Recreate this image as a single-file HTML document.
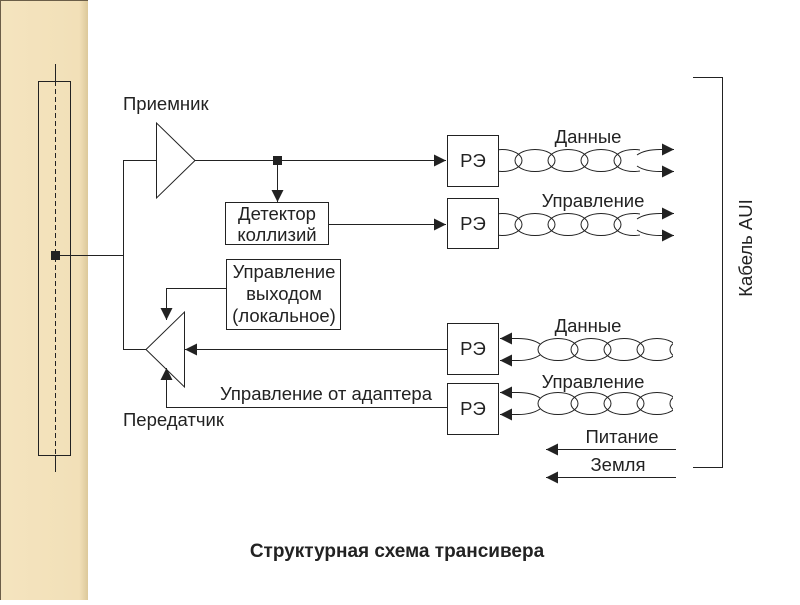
<!DOCTYPE html>
<html><head><meta charset="utf-8"><style>
body{margin:0;background:#fff;}
svg text{font-family:"Liberation Sans",sans-serif;fill:#222;}
</style></head><body>
<svg width="800" height="600" viewBox="0 0 800 600" xmlns="http://www.w3.org/2000/svg">
<defs>
<linearGradient id="pg" x1="0" x2="1"><stop offset="0" stop-color="#f4e4bf"/><stop offset="0.9" stop-color="#f2e0b8"/><stop offset="1" stop-color="#dcc89a"/></linearGradient>
<marker id="ar" viewBox="0 0 12 12" refX="12" refY="6" markerWidth="12" markerHeight="12" markerUnits="userSpaceOnUse" orient="auto"><path d="M0,0L12,6L0,12z" fill="#222"/></marker>
<clipPath id="c1"><rect x="498" y="130" width="142" height="120"/></clipPath>
<clipPath id="c2"><rect x="537" y="320" width="136" height="100"/></clipPath>
</defs>
<rect x="0" y="0" width="88" height="600" fill="url(#pg)"/>
<line x1="0.5" y1="0" x2="0.5" y2="600" stroke="#6b5e48"/>
<line x1="0" y1="0.5" x2="88" y2="0.5" stroke="#6b5e48"/>
<g stroke="#222" stroke-width="1" fill="none">
<rect x="38.5" y="81.5" width="32" height="374"/>
<line x1="55.5" y1="64" x2="55.5" y2="81"/>
<line x1="55.5" y1="81" x2="55.5" y2="456" stroke-dasharray="5,3"/>
<line x1="55.5" y1="456" x2="55.5" y2="472"/>
<line x1="55" y1="255.5" x2="123.5" y2="255.5"/>
<line x1="123.5" y1="160" x2="123.5" y2="350"/>
<line x1="123" y1="160.5" x2="156" y2="160.5"/>
<line x1="123" y1="349.5" x2="146" y2="349.5"/>
<path d="M156.5,123 L156.5,198 L195,160.5 Z" fill="#fff"/>
<path d="M184.5,312 L184.5,387 L146,349.5 Z" fill="#fff"/>
<line x1="195" y1="160.5" x2="446" y2="160.5" marker-end="url(#ar)"/>
<line x1="277.5" y1="160" x2="277.5" y2="202" marker-end="url(#ar)"/>
<rect x="225.5" y="202.5" width="103" height="42"/>
<line x1="328" y1="224.5" x2="446" y2="224.5" marker-end="url(#ar)"/>
<rect x="226.5" y="259.5" width="114" height="70"/>
<polyline points="226,288.5 166.5,288.5 166.5,320" marker-end="url(#ar)"/>
<polyline points="447,407.5 166.5,407.5 166.5,368" marker-end="url(#ar)"/>
<line x1="447" y1="349.5" x2="185" y2="349.5" marker-end="url(#ar)"/>
<rect x="447.5" y="135.5" width="51" height="51"/>
<rect x="447.5" y="198.5" width="51" height="50"/>
<rect x="447.5" y="323.5" width="51" height="51"/>
<rect x="447.5" y="383.5" width="51" height="51"/>
<g clip-path="url(#c1)">
<ellipse cx="502" cy="160.5" rx="20" ry="11"/><ellipse cx="535" cy="160.5" rx="20" ry="11"/><ellipse cx="568" cy="160.5" rx="20" ry="11"/><ellipse cx="601" cy="160.5" rx="20" ry="11"/><ellipse cx="634" cy="160.5" rx="20" ry="11"/>
<ellipse cx="502" cy="224.5" rx="20" ry="11"/><ellipse cx="535" cy="224.5" rx="20" ry="11"/><ellipse cx="568" cy="224.5" rx="20" ry="11"/><ellipse cx="601" cy="224.5" rx="20" ry="11"/><ellipse cx="634" cy="224.5" rx="20" ry="11"/>
</g>
<path d="M637,155 Q645,149.5 660,149.5 L674,149.5" marker-end="url(#ar)"/>
<path d="M637,166 Q645,171.5 660,171.5 L674,171.5" marker-end="url(#ar)"/>
<path d="M637,219 Q645,213.5 660,213.5 L674,213.5" marker-end="url(#ar)"/>
<path d="M637,230 Q645,235.5 660,235.5 L674,235.5" marker-end="url(#ar)"/>
<g clip-path="url(#c2)">
<ellipse cx="558" cy="349.5" rx="20" ry="11"/><ellipse cx="591" cy="349.5" rx="20" ry="11"/><ellipse cx="624" cy="349.5" rx="20" ry="11"/><ellipse cx="657" cy="349.5" rx="20" ry="11"/><ellipse cx="690" cy="349.5" rx="20" ry="11"/>
<ellipse cx="558" cy="403.5" rx="20" ry="11"/><ellipse cx="591" cy="403.5" rx="20" ry="11"/><ellipse cx="624" cy="403.5" rx="20" ry="11"/><ellipse cx="657" cy="403.5" rx="20" ry="11"/><ellipse cx="690" cy="403.5" rx="20" ry="11"/>
</g>
<path d="M540,344 Q532,338.5 518,338.5 L500,338.5" marker-end="url(#ar)"/>
<path d="M540,355 Q532,360.5 518,360.5 L500,360.5" marker-end="url(#ar)"/>
<path d="M540,398 Q532,392.5 518,392.5 L500,392.5" marker-end="url(#ar)"/>
<path d="M540,409 Q532,414.5 518,414.5 L500,414.5" marker-end="url(#ar)"/>
<line x1="676" y1="449.5" x2="546" y2="449.5" marker-end="url(#ar)"/>
<line x1="676" y1="477.5" x2="546" y2="477.5" marker-end="url(#ar)"/>
<polyline points="693,77.5 722.5,77.5 722.5,467.5 693,467.5"/>
</g>
<rect x="51" y="251" width="9" height="9" fill="#222"/>
<rect x="273" y="156" width="9" height="9" fill="#222"/>
<g font-size="18.5">
<text x="123" y="110">Приемник</text>
<text x="123" y="426">Передатчик</text>
<text x="277" y="220" text-anchor="middle">Детектор</text>
<text x="277" y="241" text-anchor="middle">коллизий</text>
<text x="284" y="278" text-anchor="middle">Управление</text>
<text x="284" y="300" text-anchor="middle">выходом</text>
<text x="284" y="322" text-anchor="middle">(локальное)</text>
<text x="326" y="400" text-anchor="middle">Управление от адаптера</text>
<text x="473" y="167" text-anchor="middle">РЭ</text>
<text x="473" y="230" text-anchor="middle">РЭ</text>
<text x="473" y="355" text-anchor="middle">РЭ</text>
<text x="473" y="415" text-anchor="middle">РЭ</text>
<text x="588" y="143" text-anchor="middle">Данные</text>
<text x="593" y="207" text-anchor="middle">Управление</text>
<text x="588" y="332" text-anchor="middle">Данные</text>
<text x="593" y="388" text-anchor="middle">Управление</text>
<text x="622" y="443" text-anchor="middle">Питание</text>
<text x="618" y="471" text-anchor="middle">Земля</text>
<text x="0" y="0" text-anchor="middle" transform="translate(752,248) rotate(-90)">Кабель AUI</text>
<text x="397" y="557" text-anchor="middle" font-weight="bold" font-size="19">Структурная схема трансивера</text>
</g>
</svg>
</body></html>
